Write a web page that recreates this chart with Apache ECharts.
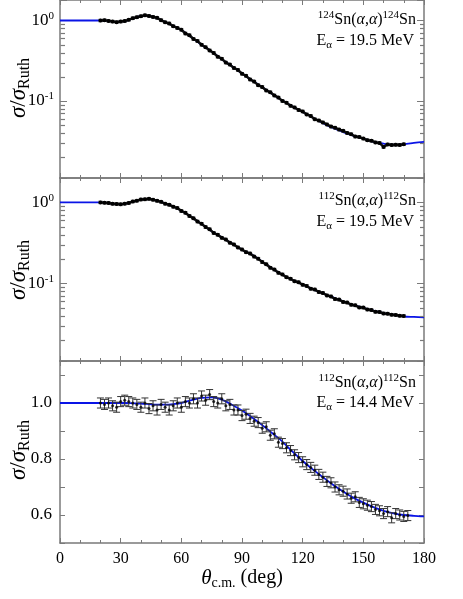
<!DOCTYPE html>
<html>
<head>
<meta charset="utf-8">
<script src="https://cdn.jsdelivr.net/npm/echarts@6/dist/echarts.min.js"></script>
<style>
  html, body { margin: 0; padding: 0; background: #fff; }
  #chart { width: 463px; height: 599px; }
</style>
</head>
<body>
<div id="chart"></div>
<script>
// measured angles (deg, c.m.)
const theta = [20, 22, 24, 26, 28, 30, 32, 34, 36, 38, 40, 42, 44, 46, 48, 50, 52, 54, 56, 58,
  60, 62, 64, 66, 68, 70, 72, 74, 76, 78, 80, 82, 84, 86, 88, 90, 92, 94, 96, 98,
  100, 102, 104, 106, 108, 110, 112, 114, 116, 118, 120, 122, 124, 126, 128, 130, 132, 134, 136, 138,
  140, 142, 144, 146, 148, 150, 152, 154, 156, 158, 160, 162, 164, 166, 168, 170, 172];

// 124Sn(a,a) 19.5 MeV
const sn124e195 = [1.00, 1.01, 0.99, 0.97, 0.955, 0.97, 0.985, 1.02, 1.07, 1.10, 1.13, 1.16, 1.14, 1.11, 1.08, 1.01, 0.95, 0.92, 0.85, 0.81,
  0.77, 0.69, 0.655, 0.59, 0.555, 0.50, 0.465, 0.425, 0.395, 0.355, 0.335, 0.30, 0.283, 0.257, 0.243, 0.218, 0.205, 0.185, 0.174, 0.157,
  0.149, 0.135, 0.128, 0.117, 0.110, 0.100, 0.095, 0.087, 0.083, 0.077, 0.074, 0.068, 0.065, 0.059, 0.057, 0.054, 0.051, 0.048, 0.0465, 0.044,
  0.0425, 0.040, 0.0385, 0.036, 0.0355, 0.034, 0.0325, 0.032, 0.0305, 0.030, 0.0268, 0.0288, 0.0283, 0.0286, 0.0284, 0.0289, null];

// 112Sn(a,a) 19.5 MeV
const sn112e195 = [1.00, 0.99, 0.985, 0.96, 0.955, 0.945, 0.965, 0.985, 1.025, 1.05, 1.085, 1.09, 1.105, 1.08, 1.045, 1.015, 0.965, 0.935, 0.885, 0.85,
  0.785, 0.745, 0.68, 0.635, 0.58, 0.545, 0.495, 0.465, 0.42, 0.398, 0.365, 0.348, 0.318, 0.302, 0.278, 0.262, 0.243, 0.234, 0.214, 0.202,
  0.183, 0.172, 0.156, 0.148, 0.135, 0.129, 0.119, 0.114, 0.106, 0.103, 0.096, 0.093, 0.086, 0.084, 0.078, 0.076, 0.071, 0.069, 0.064, 0.063,
  0.059, 0.058, 0.0545, 0.0535, 0.0505, 0.0502, 0.0475, 0.0468, 0.0445, 0.0443, 0.0425, 0.0423, 0.041, 0.0407, 0.0398, 0.0395, null];

// 112Sn(a,a) 14.4 MeV
const sn112e144 = [1.00, 0.995, 1.00, 0.99, 0.985, 1.005, 1.01, 1.005, 1.00, 0.995, 0.985, 1.00, 0.98, 0.99, 0.975, 0.995, 0.985, 0.975, 0.99, 1.00,
  0.985, 1.005, 1.00, 1.015, 1.00, 1.025, 1.01, 1.03, 1.005, 1.00, 1.015, 0.99, 0.995, 0.975, 0.975, 0.955, 0.96, 0.945, 0.935, 0.93,
  0.91, 0.915, 0.885, 0.89, 0.86, 0.855, 0.84, 0.83, 0.815, 0.805, 0.79, 0.78, 0.77, 0.76, 0.745, 0.735, 0.72, 0.715, 0.70, 0.69,
  0.685, 0.675, 0.66, 0.665, 0.645, 0.64, 0.635, 0.63, 0.62, 0.615, 0.605, 0.612, 0.59, 0.605, 0.60, 0.595, 0.598];

// optical model curves
const fitTheta = [0, 5, 10, 15, 20, 24, 28, 32, 36, 40, 44, 48, 52, 56, 60, 65, 70, 75, 80, 85,
  90, 95, 100, 105, 110, 115, 120, 125, 130, 135, 140, 145, 150, 155, 160, 165, 170, 175, 180];
const fit124e195 = [1.0, 1.0, 1.0, 1.0, 1.0, 0.99, 0.96, 0.98, 1.06, 1.14, 1.14, 1.07, 0.96, 0.86, 0.76, 0.62, 0.50, 0.41, 0.33, 0.27,
  0.22, 0.18, 0.148, 0.122, 0.101, 0.085, 0.073, 0.062, 0.053, 0.046, 0.041, 0.037, 0.034, 0.031, 0.0295, 0.0285, 0.029, 0.030, 0.031];
const fit112e195 = [1.0, 1.0, 1.0, 1.0, 1.0, 0.98, 0.95, 0.96, 1.02, 1.08, 1.10, 1.05, 0.97, 0.89, 0.79, 0.66, 0.54, 0.44, 0.37, 0.31,
  0.26, 0.225, 0.185, 0.152, 0.128, 0.110, 0.097, 0.085, 0.075, 0.067, 0.060, 0.054, 0.050, 0.046, 0.043, 0.041, 0.039, 0.0385, 0.038];
const fit112e144 = [1.0, 1.0, 1.0, 1.0, 1.0, 1.0, 1.0, 1.0, 0.999, 0.998, 0.996, 0.994, 0.994, 0.996, 1.0, 1.01, 1.018, 1.02, 1.012, 0.994,
  0.973, 0.948, 0.921, 0.892, 0.862, 0.826, 0.793, 0.763, 0.735, 0.708, 0.684, 0.662, 0.644, 0.628, 0.615, 0.606, 0.600, 0.597, 0.595];

// error sizes
const relErr195 = 0.035;
const absErr144 = 0.018;

// tick values
const xTickLabels = [0, 30, 60, 90, 120, 150, 180];
const logMinorTicks = [0.02, 0.03, 0.04, 0.05, 0.06, 0.07, 0.08, 0.09, 0.2, 0.3, 0.4, 0.5, 0.6, 0.7, 0.8, 0.9];
const linLabels = ['0.6', '0.8', '1.0'];

const serif = '"Liberation Serif", "DejaVu Serif", serif';
const axisGray = '#7a7a7a';

const chart = echarts.init(document.getElementById('chart'));

function withErr(vals, lowHigh) {
  const out = [];
  theta.forEach((t, i) => {
    if (vals[i] == null) return;
    const lh = lowHigh(vals[i]);
    out.push([t, vals[i], lh[0], lh[1]]);
  });
  return out;
}

function errorBarItem(capHalf, color) {
  return function (params, api) {
    const x = api.value(0);
    const lo = api.coord([x, api.value(2)]);
    const hi = api.coord([x, api.value(3)]);
    const style = { stroke: color, lineWidth: 1 };
    return {
      type: 'group',
      children: [
        { type: 'line', shape: { x1: lo[0], y1: lo[1], x2: hi[0], y2: hi[1] }, style },
        { type: 'line', shape: { x1: lo[0] - capHalf, y1: lo[1], x2: lo[0] + capHalf, y2: lo[1] }, style },
        { type: 'line', shape: { x1: hi[0] - capHalf, y1: hi[1], x2: hi[0] + capHalf, y2: hi[1] }, style }
      ]
    };
  };
}

// minor log ticks: one item per value, drawn inward on both frame sides
function minorTickItem(params, api) {
  const v = api.value(0);
  const a = api.coord([0, v]);
  const b = api.coord([180, v]);
  const y = Math.round(a[1]) + 0.5;
  const style = { stroke: axisGray, lineWidth: 1.2 };
  return {
    type: 'group',
    children: [
      { type: 'line', shape: { x1: a[0] + 0.5, y1: y, x2: a[0] + 5, y2: y }, style: style },
      { type: 'line', shape: { x1: b[0], y1: y, x2: b[0] - 4, y2: y }, style: style }
    ]
  };
}

function xAxisPair(gridIndex, showLabels) {
  const base = {
    type: 'value', gridIndex: gridIndex, min: 0, max: 180, interval: 30,
    axisLine: { show: true, onZero: false, lineStyle: { color: axisGray, width: 1.5 } },
    axisTick: { show: true, inside: true, length: 5, lineStyle: { color: axisGray } },
    minorTick: { show: true, splitNumber: 3, length: 3, lineStyle: { color: axisGray } },
    splitLine: { show: false }
  };
  return [
    Object.assign({}, base, {
      position: 'bottom',
      axisLabel: {
        show: showLabels, color: '#000', fontFamily: serif, fontSize: 16, margin: 8,
        formatter: v => (xTickLabels.indexOf(v) >= 0 ? String(v) : '')
      }
    }),
    Object.assign({}, base, { position: 'top', axisLabel: { show: false } })
  ];
}

const supRich = {
  b: { fontFamily: serif, fontSize: 17, color: '#000' },
  s: { fontFamily: serif, fontSize: 11, color: '#000', padding: [0, 0, 9, 0] }
};

function logAxisPair(gridIndex, min, max) {
  const base = {
    type: 'log', logBase: 10, gridIndex: gridIndex, min: min, max: max,
    axisLine: { show: true, onZero: false, lineStyle: { color: axisGray, width: 1.5 } },
    axisTick: { show: true, inside: true, length: 7, lineStyle: { color: axisGray } },
    splitLine: { show: false }
  };
  return [
    Object.assign({}, base, {
      position: 'left',
      axisLabel: {
        show: true, margin: 6,
        formatter: v => {
          const e = Math.log10(v);
          if (Math.abs(e - Math.round(e)) > 1e-6) return '';
          return '{b|10}{s|' + Math.round(e) + '}';
        },
        rich: supRich
      }
    }),
    Object.assign({}, base, { position: 'right', axisLabel: { show: false } })
  ];
}

function linAxisPair(gridIndex) {
  const base = {
    type: 'value', gridIndex: gridIndex, min: 0.5, max: 1.15, interval: 0.1,
    axisLine: { show: true, onZero: false, lineStyle: { color: axisGray, width: 1.5 } },
    axisTick: { show: true, inside: true, length: 5, lineStyle: { color: axisGray } },
    splitLine: { show: false }
  };
  return [
    Object.assign({}, base, {
      position: 'left',
      axisLabel: {
        show: true, margin: 8, color: '#000', fontFamily: serif, fontSize: 17,
        formatter: v => {
          const s = v.toFixed(1);
          return linLabels.indexOf(s) >= 0 ? s : '';
        }
      }
    }),
    Object.assign({}, base, { position: 'right', axisLabel: { show: false } })
  ];
}

const textRich = {
  sup: { fontFamily: serif, fontSize: 11, color: '#000', padding: [0, 0, 9, 0] },
  sub: { fontFamily: serif, fontSize: 11, color: '#000', padding: [8, 0, 0, 0] },
  it: { fontFamily: serif, fontSize: 16, fontStyle: 'italic', color: '#000' },
  n: { fontFamily: serif, fontSize: 16, color: '#000' }
};

function note(x, y, text) {
  return {
    type: 'text', x: x, y: y, silent: true, z: 100,
    style: { text: text, textAlign: 'right', textVerticalAlign: 'middle', fontFamily: serif, fontSize: 16, fill: '#000', rich: textRich }
  };
}

const titleRich = {
  it: { fontFamily: serif, fontSize: 23, fontStyle: 'italic', color: '#000' },
  n: { fontFamily: serif, fontSize: 23, color: '#000' },
  sub: { fontFamily: serif, fontSize: 16, color: '#000', padding: [12, 0, 0, 0] }
};

function yTitle(cy) {
  return {
    type: 'text', x: 19, y: cy, rotation: Math.PI / 2, silent: true,
    style: { text: '{it|σ}{n|/}{it|σ}{sub|Ruth}', textAlign: 'center', textVerticalAlign: 'middle', rich: titleRich }
  };
}

function panelSeries(axisIdx, data, fit, opts) {
  const s = [
    {
      type: 'line', xAxisIndex: axisIdx, yAxisIndex: axisIdx,
      data: fitTheta.map((t, i) => [t, fit[i]]),
      showSymbol: false, smooth: 0.3, z: 2,
      lineStyle: { color: '#0a14e6', width: 1.8 }, silent: true
    },
    {
      type: 'custom', xAxisIndex: axisIdx, yAxisIndex: axisIdx,
      data: data, renderItem: errorBarItem(opts.capHalf, opts.barColor), z: 3, silent: true,
      encode: { x: 0, y: [1, 2, 3] }
    }
  ];
  if (opts.band) {
    // dense data: points merge into a dark band
    s.push({
      type: 'line', xAxisIndex: axisIdx, yAxisIndex: axisIdx,
      data: data.map(d => [d[0], d[1]]),
      showSymbol: true, symbol: 'circle', symbolSize: opts.symbolSize, z: 4, silent: true,
      itemStyle: { color: '#000' },
      lineStyle: { color: '#111', width: 2.5 }
    });
  } else {
    s.push({
      type: 'scatter', xAxisIndex: axisIdx, yAxisIndex: axisIdx,
      data: data.map(d => [d[0], d[1]]),
      symbol: 'circle', symbolSize: opts.symbolSize, z: 4, silent: true,
      itemStyle: { color: '#000' }
    });
  }
  if (opts.log) {
    s.push({
      type: 'custom', xAxisIndex: axisIdx, yAxisIndex: axisIdx,
      data: logMinorTicks.map(v => [v]),
      renderItem: minorTickItem, z: 5, silent: true, clip: false,
      encode: { y: 0 }
    });
  }
  return s;
}

const d1 = withErr(sn124e195, v => [v * (1 - relErr195), v * (1 + relErr195)]);
const d2 = withErr(sn112e195, v => [v * (1 - relErr195), v * (1 + relErr195)]);
const d3 = withErr(sn112e144, v => [v - absErr144, v + absErr144]);

const option = {
  animation: false,
  backgroundColor: '#fff',
  grid: [
    { left: 60, right: 39, top: 0, height: 178 },
    { left: 60, right: 39, top: 178, height: 183 },
    { left: 60, right: 39, top: 361, height: 182 }
  ],
  xAxis: [].concat(xAxisPair(0, false), xAxisPair(1, false), xAxisPair(2, true)),
  yAxis: [].concat(logAxisPair(0, 0.011, 1.8), logAxisPair(1, 0.011, 2.0), linAxisPair(2)),
  series: [].concat(
    panelSeries(0, d1, fit124e195, { capHalf: 2, barColor: '#555', symbolSize: 4, band: true, log: true }),
    panelSeries(2, d2, fit112e195, { capHalf: 2, barColor: '#555', symbolSize: 4, band: true, log: true }),
    panelSeries(4, d3, fit112e144, { capHalf: 3.5, barColor: '#333', symbolSize: 3, band: false, log: false })
  ),
  graphic: [
    note(416, 20, '{sup|124}{n|Sn(}{it|α}{n|,}{it|α}{n|)}{sup|124}{n|Sn}'),
    note(414, 41, '{n|E}{sub|α}{n| = 19.5 MeV}'),
    note(416, 201, '{sup|112}{n|Sn(}{it|α}{n|,}{it|α}{n|)}{sup|112}{n|Sn}'),
    note(414, 222, '{n|E}{sub|α}{n| = 19.5 MeV}'),
    note(416, 383, '{sup|112}{n|Sn(}{it|α}{n|,}{it|α}{n|)}{sup|112}{n|Sn}'),
    note(414, 403, '{n|E}{sub|α}{n| = 14.4 MeV}'),
    yTitle(88),
    yTitle(270),
    yTitle(450),
    {
      type: 'text', x: 242, y: 578, silent: true,
      style: {
        text: '{it|θ}{sub|c.m.}{n| (deg)}', textAlign: 'center', textVerticalAlign: 'middle',
        rich: {
          it: { fontFamily: serif, fontSize: 21, fontStyle: 'italic', color: '#000' },
          n: { fontFamily: serif, fontSize: 20, color: '#000' },
          sub: { fontFamily: serif, fontSize: 14, color: '#000', padding: [10, 0, 0, 0] }
        }
      }
    }
  ]
};

chart.setOption(option);
</script>
</body>
</html>
